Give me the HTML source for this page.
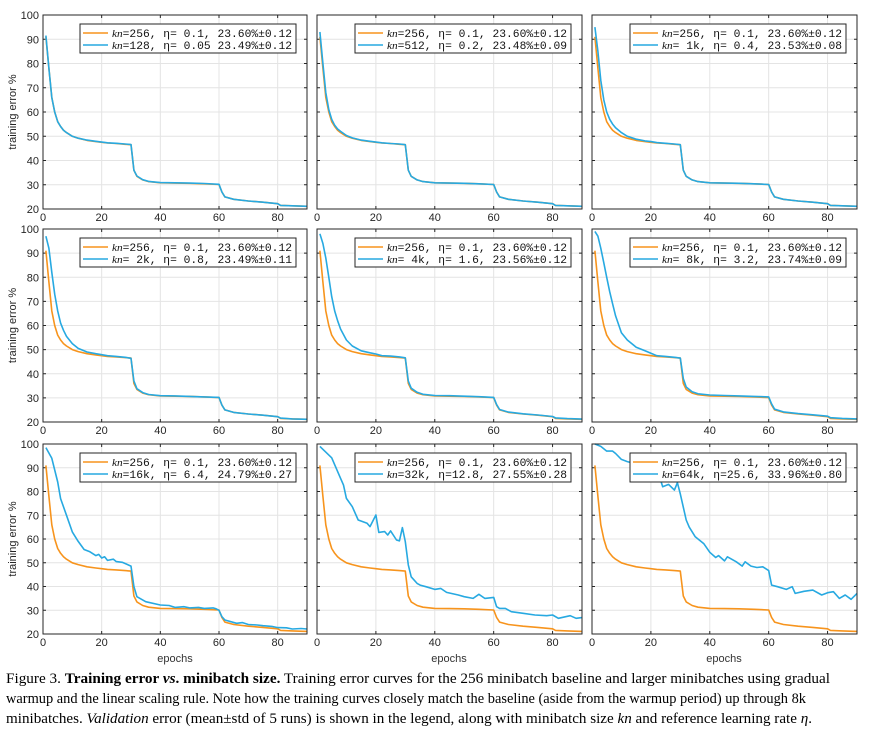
<!DOCTYPE html>
<html><head><meta charset="utf-8"><style>
body{margin:0;background:#fff;width:888px;height:731px;overflow:hidden}
svg{display:block}
</style></head><body>
<svg id="fig" width="888" height="731" viewBox="0 0 888 731" xmlns="http://www.w3.org/2000/svg">
<g id="plots"></g>
<g font-family="Liberation Sans, sans-serif" font-size="11" fill="#333" text-anchor="middle">
<text x="175" y="662">epochs</text>
<text x="449" y="662">epochs</text>
<text x="724" y="662">epochs</text>
</g>
<g font-family="Liberation Serif, serif" font-size="14.5" fill="#000">
<text x="6" y="683" textLength="824" lengthAdjust="spacingAndGlyphs">Figure 3. <tspan font-weight="bold">Training error <tspan font-style="italic">vs</tspan>. minibatch size.</tspan> Training error curves for the 256 minibatch baseline and larger minibatches using gradual</text>
<text x="6" y="703" textLength="800" lengthAdjust="spacingAndGlyphs">warmup and the linear scaling rule. Note how the training curves closely match the baseline (aside from the warmup period) up through 8k</text>
<text x="6" y="723" textLength="806" lengthAdjust="spacingAndGlyphs">minibatches. <tspan font-style="italic">Validation</tspan> error (mean±std of 5 runs) is shown in the legend, along with minibatch size <tspan font-style="italic">kn</tspan> and reference learning rate <tspan font-style="italic">η</tspan>.</text>
</g>
</svg>
<script>
const epochs=[1,2,3,4,5,6,7,8,10,12,15,18,20,22,25,28,30,31,32,34,36,40,45,50,55,60,61,62,65,70,75,80,81,85,90];
const baseline=[91,78,66,60,56,54,52.5,51.5,50,49.2,48.3,47.8,47.5,47.2,47,46.7,46.5,36,33.5,32,31.3,30.8,30.7,30.6,30.4,30.1,27,25,24,23.3,22.8,22.2,21.5,21.3,21.1];
const s128=[91.5,78,66,60,56,54,52.5,51.5,50,49.2,48.4,47.9,47.6,47.3,47.1,46.8,46.6,36,33.6,32.1,31.4,30.9,30.8,30.7,30.5,30.2,27,25,24,23.3,22.8,22.2,21.5,21.3,21.1];
const s512=[93,80,68,61,57,54.5,53,52,50.3,49.3,48.4,47.9,47.6,47.3,47,46.8,46.5,36,33.5,32,31.3,30.8,30.7,30.6,30.4,30.1,27,25,24,23.3,22.8,22.2,21.5,21.3,21.1];
const s1k=[95,85,73,65,60,57,55,53.5,51.5,50,48.8,48.1,47.8,47.4,47.1,46.8,46.5,36,33.5,32,31.3,30.8,30.7,30.6,30.4,30.1,27,25,24,23.3,22.8,22.2,21.5,21.3,21.1];
const s2k=[97,92,82,73,66,61,58,55.5,52.5,50.5,49,48.3,47.9,47.5,47.2,46.8,46.4,37,33.8,32.2,31.4,30.9,30.8,30.6,30.4,30.2,27,25,24,23.3,22.8,22.2,21.6,21.3,21.1];
const s4k=[98,94,88,80,72,66,62,58.5,54,51.5,49.5,48.7,48.2,47.5,47.3,47,46.6,37,34,32.3,31.5,31,30.9,30.7,30.5,30.2,27.2,25.2,24.1,23.4,22.9,22.3,21.7,21.4,21.2];
const s8k=[99,97,92,86,80,74,69,64,57,54,51,49.5,48.5,47.5,47.2,46.8,46.5,38,34.5,32.5,31.7,31.2,31,30.8,30.6,30.4,27.5,25.3,24.2,23.5,23,22.4,21.8,21.5,21.3];
const e16k=[1,3,5,6,8,10,12,14,16,18,19,20,21,22,24,25,27,28,30,31,32,35,40,43,45,48,50,53,55,58,59,60,61,62,66,68,70,73,75,78,80,83,85,88,90];
const s16k=[98.5,94,84,77,70,63,59,55.6,54.6,53,53.5,52,52.5,51,51.5,50.5,50.2,49.7,48.6,40,35.7,33.6,32.2,32,31.2,31.5,31,31.2,30.8,31,30.6,30,27.3,25.9,24.5,24.8,24,23.8,23.5,23.2,22.7,22.6,22.1,22.3,22.1];
const e32k=[1,5,8,9,10,12,14,17,18,20,21,23,24,25,27,28,29,30,31,32,34,35,37,40,42,44,48,50,53,55,57,60,61,62,64,66,70,74,78,80,82,86,88,90];
const s32k=[99,94.2,85.5,82.7,77.1,73.6,68,66.6,65.2,70.1,62.8,63.1,61.7,63.4,59.6,59.2,64.8,58.9,49.1,44.1,41.3,40.6,39.9,38.8,39.2,37.5,36.4,35.7,35,36.7,35,35.4,31.5,30.8,30.8,29.4,28.7,28,27.7,28,26.6,27.7,26.6,26.9];
const e64k=[1,3,5,7,8,10,12,14,17,20,23,24,26,28,29,30,32,33,35,38,40,42,43,45,46,49,51,52,54,56,58,60,61,63,66,68,69,72,75,78,80,82,84,86,88,90];
const s64k=[100,99,97,97,96,93.5,92.6,91.9,90.7,89,86,82,83,80.6,83.7,79,68,65,61,58,54.4,52.2,53,50.8,52.5,50.4,48.6,50.4,48.6,48,48.3,46.7,40.6,39.9,38.8,39.9,37.1,38,38.5,36.4,37.4,37.8,35,36.4,34.6,37.1];
const compareSeries=[s128,s512,s1k,s2k,s4k,s8k,s16k,s32k,s64k];
const compareEpochs=[epochs,epochs,epochs,epochs,epochs,epochs,e16k,e32k,e64k];
const legendBase="=256, η= 0.1, 23.60%±0.12";
const legendCompare=["=128, η= 0.05 23.49%±0.12","=512, η= 0.2, 23.48%±0.09","= 1k, η= 0.4, 23.53%±0.08","= 2k, η= 0.8, 23.49%±0.11","= 4k, η= 1.6, 23.56%±0.12","= 8k, η= 3.2, 23.74%±0.09","=16k, η= 6.4, 24.79%±0.27","=32k, η=12.8, 27.55%±0.28","=64k, η=25.6, 33.96%±0.80"];
const xTicks=[0,20,40,60,80];
const yTicks=[20,30,40,50,60,70,80,90,100];

const NS="http://www.w3.org/2000/svg";
const colX=[[43,307],[317,582],[592,857]];
const rowY=[[15,209],[229,422],[444,634]];
const root=document.getElementById('plots');
function mk(tag,attrs,parent){const e=document.createElementNS(NS,tag);for(const k in attrs)e.setAttribute(k,attrs[k]);parent.appendChild(e);return e;}

for(let i=0;i<9;i++){
  const r=Math.floor(i/3),c=i%3;
  const [x0,x1]=colX[c],[y0,y1]=rowY[r];
  const sx=v=>x0+(v/90)*(x1-x0);
  const sy=v=>y1-((v-20)/80)*(y1-y0);
  const g=mk('g',{},root);
  
  
  mk('rect',{x:x0,y:y0,width:x1-x0,height:y1-y0,fill:'#fff'},g);
  const grid=mk('g',{stroke:'#e4e4e4','stroke-width':1},g);
  
  
  xTicks.forEach(t=>{if(t>0)mk('line',{x1:sx(t),x2:sx(t),y1:y0,y2:y1},grid);});
  yTicks.forEach(t=>{mk('line',{x1:x0,x2:x1,y1:sy(t),y2:sy(t)},grid);});
  const tk=mk('g',{stroke:'#262626','stroke-width':1},g);
  xTicks.forEach(t=>{mk('line',{x1:sx(t),x2:sx(t),y1:y1,y2:y1-3},tk);mk('line',{x1:sx(t),x2:sx(t),y1:y0,y2:y0+3},tk);});
  yTicks.forEach(t=>{mk('line',{x1:x0,x2:x0+3,y1:sy(t),y2:sy(t)},tk);mk('line',{x1:x1,x2:x1-3,y1:sy(t),y2:sy(t)},tk);});
  const xl=mk('g',{'font-family':'Liberation Sans, sans-serif','font-size':11,fill:'#262626','text-anchor':'middle'},g);
  
  
  xTicks.forEach(t=>{const e=mk('text',{x:sx(t),y:y1+12},xl);e.textContent=t;});
  if(c===0){
    const yl=mk('g',{'font-family':'Liberation Sans, sans-serif','font-size':11,fill:'#262626','text-anchor':'end'},g);
    
    
    yTicks.forEach(t=>{const e=mk('text',{x:x0-4,y:sy(t)+4},yl);e.textContent=t;});
    const yt=mk('text',{x:0,y:0,transform:`translate(16,${(y0+y1)/2}) rotate(-90)`,'font-family':'Liberation Sans, sans-serif','font-size':11,fill:'#262626','text-anchor':'middle'},g);
    
    
    yt.textContent='training error %';
  }
  const path=(xs,vals)=>vals.map((v,j)=>(j?'L':'M')+sx(xs[j]).toFixed(1)+','+sy(v).toFixed(1)).join('');
  const lb=mk('path',{d:path(epochs,baseline),fill:'none',stroke:'#F7941D','stroke-width':1.6,'stroke-linejoin':'round'},g);
  
  
  const lc=mk('path',{d:path(compareEpochs[i],compareSeries[i]),fill:'none',stroke:'#27A9E1','stroke-width':1.6,'stroke-linejoin':'round'},g);
  
  
  const box=mk('rect',{x:x0,y:y0,width:x1-x0,height:y1-y0,fill:'none',stroke:'#262626','stroke-width':1},g);
  
  
  const lx1=x1-11,lx0=lx1-216,ly0=y0+9;
  const lg=mk('g',{},g);
  
  
  mk('rect',{x:lx0,y:ly0,width:216,height:29,fill:'#fff',stroke:'#262626','stroke-width':1},lg);
  [[legendBase,'#F7941D'],[legendCompare[i],'#27A9E1']].forEach((it,k)=>{
    const yy=ly0+9+k*12;
    const le=mk('g',{},lg);
    
    
    mk('line',{x1:lx0+3,x2:lx0+28,y1:yy,y2:yy,stroke:it[1],'stroke-width':1.6},le);
    const t=mk('text',{x:lx0+32,y:yy+4,'font-family':'Liberation Mono, monospace','font-size':11,fill:'#111',textLength:180,lengthAdjust:'spacingAndGlyphs'},le);
    const ts=mk('tspan',{'font-style':'italic','font-family':'Liberation Serif, serif'},t);ts.textContent='kn';
    const t2=mk('tspan',{},t);t2.textContent=it[0];
  });
}
</script>
</body></html>
